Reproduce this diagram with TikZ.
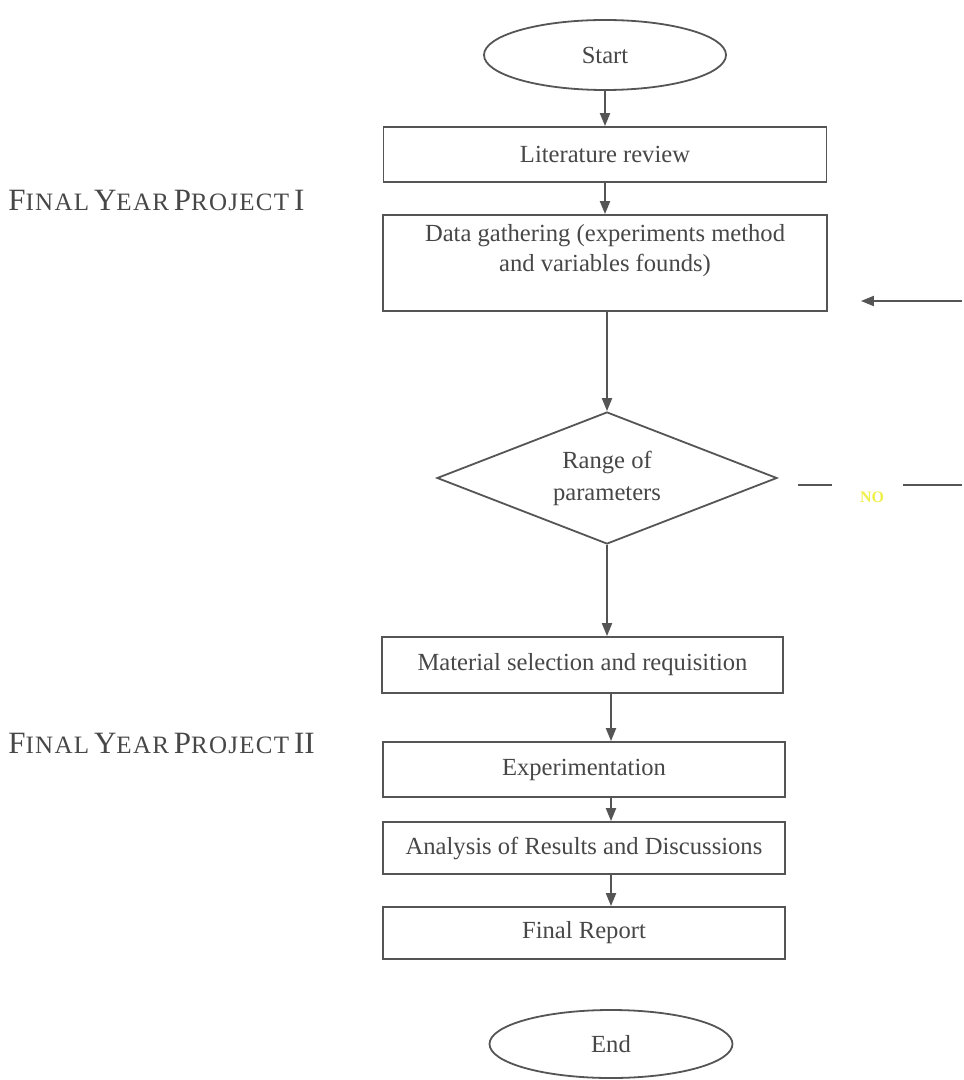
\documentclass[tikz,border=0pt]{standalone}
\usepackage{fontspec}
\setmainfont{Liberation Serif}
\usetikzlibrary{shapes.geometric,arrows.meta}
\definecolor{trait}{HTML}{555555}
\definecolor{texte}{HTML}{474747}
\definecolor{jaune}{HTML}{F0F04A}
\newcommand{\grand}[1]{{\fontsize{15.5}{17}\selectfont #1}}
\newcommand{\petit}[1]{{\fontsize{12.5}{14}\selectfont\addfontfeature{LetterSpace=5}#1}}

\begin{document}
\begin{tikzpicture}[x=0.5pt,y=-0.5pt]
\tikzset{boite/.style={draw=trait, line width=0.9pt, rectangle, inner sep=0pt, text=texte, align=center, font=\fontsize{12.3}{15}\selectfont},
ovale/.style={boite, ellipse},
losange/.style={boite, diamond},
fleche/.style={draw=trait, line width=1pt, -{Triangle[length=6.5pt,width=5pt]}},
etiquette/.style={text=texte, anchor=west, inner sep=0pt}}
\fill[white] (0,0) rectangle (962,1080);
% les deux phases
\node[etiquette] (fyp1) at (8,200) {\grand{F}\petit{INAL} \grand{Y}\petit{EAR} \grand{P}\petit{ROJECT} \grand{I}};
\node[etiquette] (fyp2) at (8,743) {\grand{F}\petit{INAL} \grand{Y}\petit{EAR} \grand{P}\petit{ROJECT} \grand{II}};
% le diagramme
\node[ovale, minimum width=121pt, minimum height=35pt] (debut) at (605,55) {Start};
\node[boite, minimum width=221.5pt, minimum height=27.5pt] (litt) at (605,154.5) {Literature review};
\node[boite, minimum width=222pt, minimum height=48pt,
  label={[text=texte, align=center, font=\fontsize{12.3}{15}\selectfont, anchor=north, yshift=-1.5pt]north:Data gathering (experiments method\\and variables founds)}] (donnees) at (605,263) {};
\node[losange, minimum width=170pt, minimum height=66pt,
  label={[text=texte, align=center, font=\fontsize{12.3}{16}\selectfont]center:Range of\\parameters}] (gamme) at (607,478) {};
\node[boite, minimum width=200.5pt, minimum height=28pt] (materiau) at (582.5,665) {Material selection and requisition};
\node[boite, minimum width=201pt, minimum height=27.5pt] (essai) at (584,769.5) {Experimentation};
\node[boite, minimum width=201pt, minimum height=26pt] (analyse) at (584,848) {Analysis of Results and Discussions};
\node[boite, minimum width=201pt, minimum height=26pt] (rapport) at (584,933) {Final Report};
\node[ovale, minimum width=121.5pt, minimum height=34pt] (fin) at (611,1044) {End};
\coordinate (retour) at (962,485);
\coordinate (entree) at (962,301);
\draw[fleche] (debut) -- (litt);
\draw[fleche] (litt) -- (donnees);
\draw[fleche] (gamme.north |- donnees.south) -- (gamme.north);
\draw[fleche] (gamme.south) -- (gamme.south |- materiau.north);
\draw[fleche] (fin |- materiau.south) -- (fin |- essai.north);
\draw[fleche] (fin |- essai.south) -- (fin |- analyse.north);
\draw[fleche] (fin |- analyse.south) -- (fin |- rapport.north);
% boucle NO
\draw[trait, line width=1pt] ([xshift=10pt,yshift=-3.5pt]gamme.east) -- ++(34,0);
\node[text=jaune, font=\fontsize{8}{9}\selectfont\bfseries] (non) at (872,497) {NO};
\draw[trait, line width=1pt] (retour) -- ++(-59,0);
\draw[fleche] (entree) -- ([xshift=16.5pt]entree -| donnees.east);
\end{tikzpicture}
\end{document}
